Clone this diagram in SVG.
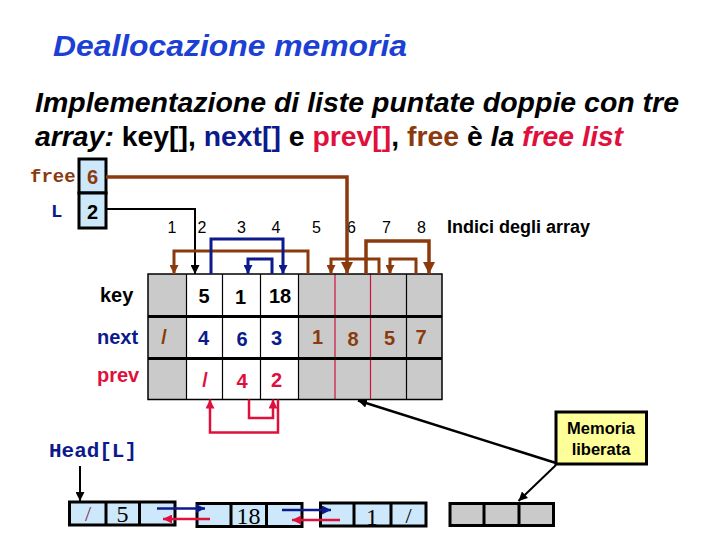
<svg xmlns="http://www.w3.org/2000/svg" width="720" height="540" viewBox="0 0 720 540">
<style>
.t{font-family:"Liberation Sans",Arial,sans-serif}
.b{font-weight:bold}
.mono{font-family:"Liberation Mono","Courier New",monospace;font-weight:bold}
.serif{font-family:"Liberation Serif","Times New Roman",serif}
.idx{font-family:"Liberation Sans",Arial,sans-serif;font-size:16px;text-anchor:middle}
.val{font-family:"Liberation Sans",Arial,sans-serif;font-size:20px;font-weight:bold;text-anchor:middle}
.navy{fill:#0c1a8c}
.red{fill:#e0103c}
.brown{fill:#8b3a0e}
.grey{fill:#cacaca}
.white{fill:#ffffff}
.lb{fill:#cce8fa}
.box{stroke:#000;stroke-width:3}
.conn{fill:none}
.sbrown{stroke:#8b3a0e}
.snavy{stroke:#0c1a8c}
.sred{stroke:#e0103c}
.sblack{stroke:#000}
</style>
<defs>
<marker id="hBrownL" markerUnits="userSpaceOnUse" markerWidth="12" markerHeight="12" refX="12" refY="6" orient="auto"><path d="M0,0 L12,6 L0,12 z" fill="#8b3a0e"/></marker>
<marker id="hBrown" markerUnits="userSpaceOnUse" markerWidth="9" markerHeight="9" refX="9" refY="4.5" orient="auto"><path d="M0,0 L9,4.5 L0,9 z" fill="#8b3a0e"/></marker>
<marker id="hNavy" markerUnits="userSpaceOnUse" markerWidth="9" markerHeight="9" refX="9" refY="4.5" orient="auto"><path d="M0,0 L9,4.5 L0,9 z" fill="#0c1a8c"/></marker>
<marker id="hRed" markerUnits="userSpaceOnUse" markerWidth="9" markerHeight="9" refX="9" refY="4.5" orient="auto"><path d="M0,0 L9,4.5 L0,9 z" fill="#e0103c"/></marker>
<marker id="hBlack" markerUnits="userSpaceOnUse" markerWidth="9" markerHeight="9" refX="9" refY="4.5" orient="auto"><path d="M0,0 L9,4.5 L0,9 z" fill="#000"/></marker>
</defs>
<rect width="720" height="540" fill="#fff"/>

<g id="title">
<text x="53" y="56" class="t b" font-style="italic" font-size="30" fill="#1c40d4" textLength="354" lengthAdjust="spacingAndGlyphs">Deallocazione memoria</text>
</g>
<g id="subtitle" class="t b" font-size="28">
<text x="35" y="112" font-style="italic" fill="#000" textLength="644" lengthAdjust="spacingAndGlyphs">Implementazione di liste puntate doppie con tre</text>
<text x="35" y="146" fill="#000" textLength="588" lengthAdjust="spacingAndGlyphs"><tspan font-style="italic">array:</tspan> key[], <tspan class="navy">next[]</tspan> e <tspan class="red">prev[]</tspan>, <tspan class="brown">free</tspan> è <tspan font-style="italic">la </tspan><tspan font-style="italic" class="red">free list</tspan></text>
</g>

<g id="free">
<text x="30" y="182" class="mono brown" font-size="19">free</text>
<rect x="79" y="159" width="27" height="34" class="lb box"/>
<text x="92.5" y="184" class="val brown" font-size="21">6</text>
</g>
<g id="L">
<text x="51" y="217" class="mono navy" font-size="19">L</text>
<rect x="79" y="193" width="27" height="35" class="lb box"/>
<text x="92.5" y="219" class="val" font-size="21">2</text>
</g>

<g id="indices">
<text x="172" y="233" class="idx">1</text>
<text x="202" y="233" class="idx">2</text>
<text x="241.5" y="233" class="idx">3</text>
<text x="276" y="233" class="idx">4</text>
<text x="316.5" y="233" class="idx">5</text>
<text x="351.5" y="233" class="idx">6</text>
<text x="386.5" y="233" class="idx">7</text>
<text x="421.5" y="233" class="idx">8</text>
<text x="447" y="233" class="t b" font-size="18">Indici degli array</text>
</g>

<g id="table">
<rect x="148" y="274" width="38.5" height="125.5" class="grey"/>
<rect x="186.5" y="274" width="112" height="125.5" class="white"/>
<rect x="298.5" y="274" width="143.5" height="125.5" class="grey"/>
<g stroke="#000" stroke-width="1.2">
<line x1="186.5" y1="274" x2="186.5" y2="399.5"/>
<line x1="222.5" y1="274" x2="222.5" y2="399.5"/>
<line x1="260.5" y1="274" x2="260.5" y2="399.5"/>
<line x1="298.5" y1="274" x2="298.5" y2="399.5"/>
<line x1="406.5" y1="274" x2="406.5" y2="399.5"/>
</g>
<g stroke="#d0103c" stroke-width="1.2">
<line x1="335" y1="274" x2="335" y2="399.5"/>
<line x1="370.5" y1="274" x2="370.5" y2="399.5"/>
</g>
<g stroke="#000" stroke-width="3">
<line x1="148" y1="316.5" x2="442" y2="316.5"/>
<line x1="148" y1="358.5" x2="442" y2="358.5"/>
</g>
<rect x="148" y="274" width="294" height="125.5" fill="none" stroke="#000" stroke-width="1.5"/>
<text x="100" y="302" class="t b" font-size="20">key</text>
<text x="97" y="344" class="t b navy" font-size="20">next</text>
<text x="97" y="382" class="t b red" font-size="20">prev</text>
<text x="204" y="303" class="val">5</text>
<text x="240.5" y="304" class="val">1</text>
<text x="280" y="303" class="val">18</text>
<text x="164" y="344" class="val brown">/</text>
<text x="203.5" y="345" class="val navy">4</text>
<text x="242" y="346" class="val navy">6</text>
<text x="276.5" y="345" class="val navy">3</text>
<text x="317.5" y="344" class="val brown">1</text>
<text x="353" y="346" class="val brown">8</text>
<text x="389.5" y="345" class="val brown">5</text>
<text x="421" y="344" class="val brown">7</text>
<text x="205" y="387" class="val red">/</text>
<text x="242" y="388" class="val red">4</text>
<text x="276.5" y="387" class="val red">2</text>
</g>

<g id="headL">
<text x="49" y="457" class="mono navy" font-size="20.5" textLength="88" lengthAdjust="spacingAndGlyphs">Head[L]</text>
</g>

<g id="node1">
<rect x="69.5" y="502" width="105.5" height="23" class="lb box"/>
<line x1="106" y1="502" x2="106" y2="525" class="box"/>
<line x1="139.5" y1="502" x2="139.5" y2="525" class="box"/>
<text x="88" y="521" class="serif" font-size="22" text-anchor="middle" fill="#8b2a50">/</text>
<text x="122.5" y="522" class="serif" font-size="24" text-anchor="middle">5</text>
</g>
<g id="node2">
<rect x="197" y="503.5" width="105" height="23" class="lb box"/>
<line x1="231" y1="503.5" x2="231" y2="526.5" class="box"/>
<line x1="266.5" y1="503.5" x2="266.5" y2="526.5" class="box"/>
<text x="248.5" y="524" class="serif" font-size="24" text-anchor="middle">18</text>
</g>
<g id="node3">
<rect x="320.5" y="503" width="105.5" height="23" class="lb box"/>
<line x1="354" y1="503" x2="354" y2="526" class="box"/>
<line x1="391" y1="503" x2="391" y2="526" class="box"/>
<text x="372" y="525" class="serif" font-size="24" text-anchor="middle">1</text>
<text x="408.5" y="523" class="serif" font-size="22" text-anchor="middle">/</text>
</g>
<g id="node4">
<rect x="450" y="503.5" width="103.5" height="22" class="grey box"/>
<line x1="484" y1="503.5" x2="484" y2="525.5" class="box"/>
<line x1="519" y1="503.5" x2="519" y2="525.5" class="box"/>
</g>

<g id="memoria">
<rect x="556" y="412" width="90.5" height="52" fill="#ffff99" stroke="#000" stroke-width="3"/>
<text x="601" y="434" class="t b" font-size="16.5" text-anchor="middle">Memoria</text>
<text x="601" y="455" class="t b" font-size="16.5" text-anchor="middle">liberata</text>
</g>

<g id="connectors" class="conn">
<path d="M106,177 H347 V274" class="sbrown" stroke-width="3.5" marker-end="url(#hBrownL)"/>
<path d="M106,209 H195 V274" class="sblack" stroke-width="2" marker-end="url(#hBlack)"/>
<path d="M308,274 V251 H174 V274" class="sbrown" stroke-width="3" marker-end="url(#hBrown)"/>
<path d="M211,274 V239 H283 V274" class="snavy" stroke-width="3" marker-end="url(#hNavy)"/>
<path d="M272,274 V259 H248 V274" class="snavy" stroke-width="3" marker-end="url(#hNavy)"/>
<path d="M379,274 V259 H331 V274" class="sbrown" stroke-width="3" marker-end="url(#hBrown)"/>
<path d="M366,274 V241 H429 V274" class="sbrown" stroke-width="3.5" marker-end="url(#hBrownL)"/>
<path d="M416,274 V259 H390 V274" class="sbrown" stroke-width="3" marker-end="url(#hBrown)"/>
<path d="M249,399.5 V418 H273 V399.5" class="sred" stroke-width="2.5" marker-end="url(#hRed)"/>
<path d="M278,399.5 V432.5 H210 V399.5" class="sred" stroke-width="2.5" marker-end="url(#hRed)"/>
<path d="M80,466 V501" class="sblack" stroke-width="2" marker-end="url(#hBlack)"/>
<path d="M157,508.5 H205" class="snavy" stroke-width="2.5" marker-end="url(#hNavy)"/>
<path d="M210,519 H163" class="sred" stroke-width="2.5" marker-end="url(#hRed)"/>
<path d="M282,510 H331" class="snavy" stroke-width="2.5" marker-end="url(#hNavy)"/>
<path d="M340,520 H292" class="sred" stroke-width="2.5" marker-end="url(#hRed)"/>
<path d="M556,463 L358,400.5" class="sblack" stroke-width="2.5" marker-end="url(#hBlack)"/>
<path d="M556,465 L518.5,501" class="sblack" stroke-width="2" marker-end="url(#hBlack)"/>
</g>
</svg>
